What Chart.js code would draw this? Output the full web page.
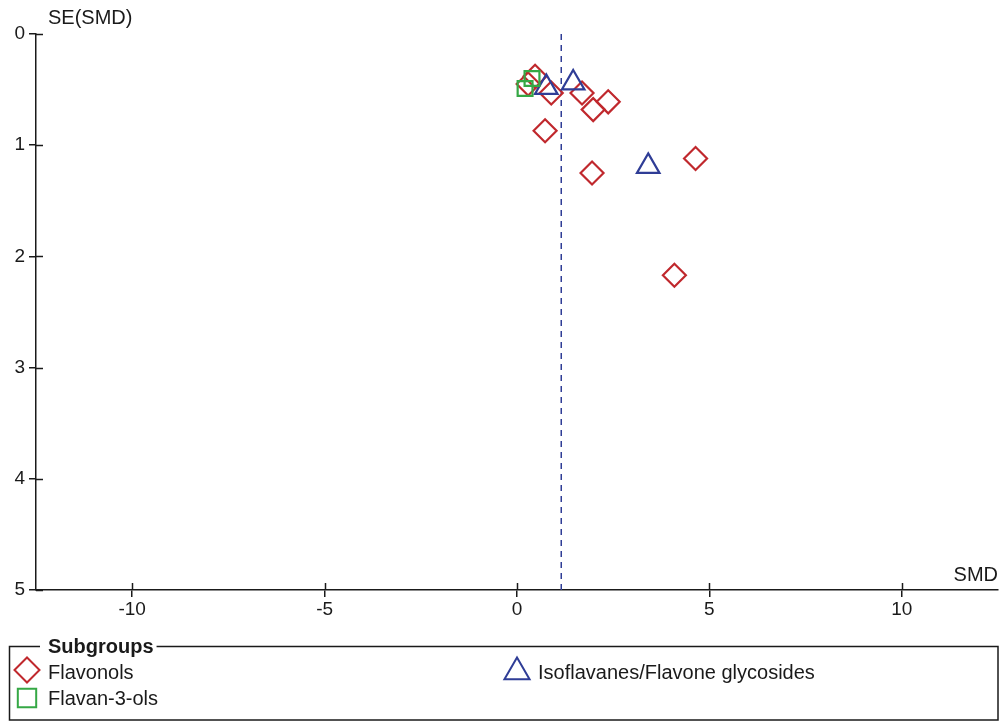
<!DOCTYPE html>
<html><head><meta charset="utf-8">
<script src="https://cdn.jsdelivr.net/npm/chart.js@4.4.0/dist/chart.umd.min.js"></script>
<style>html,body{margin:0;padding:0;background:#fff;} #wrap{width:1001px;height:722px;position:relative}</style>
</head><body><div id="wrap"><canvas id="c" width="1001" height="722"></canvas></div>
<script>
// ---- data ----
const flavonolsSMD = [0.47, 0.29, 0.89, 1.69, 1.98, 2.37, 0.73, 1.95, 4.64, 4.09];
const flavonolsSE  = [0.38, 0.45, 0.53, 0.53, 0.68, 0.61, 0.87, 1.25, 1.12, 2.17];
const isoSMD = [0.76, 1.46, 3.41];
const isoSE  = [0.48, 0.44, 1.19];
const flavanSMD = [0.39, 0.21];
const flavanSE  = [0.40, 0.49];
const pooledSMD = 1.15;
const xTicks = [-10, -5, 0, 5, 10];
const yTicks = [0, 1, 2, 3, 4, 5];
const xLabel = 'SMD';
const yLabel = 'SE(SMD)';
const legendTitle = 'Subgroups';
const seriesNames = ['Flavonols', 'Isoflavanes/Flavone glycosides', 'Flavan-3-ols'];

const RED = '#c0282d', BLUE = '#2f3d96', GREEN = '#35a845', INK = '#1a1a1a';
const FONT = 'Liberation Sans, Arial, sans-serif';

const pts = (xs, ys) => xs.map((x, i) => ({x, y: ys[i]}));

const styles = {
  'Flavonols': {pointStyle: 'rectRot', radius: 11.5, color: RED, legR: 12.5},
  'Isoflavanes/Flavone glycosides': {pointStyle: 'triangle', radius: 13, color: BLUE, legR: 14.5},
  'Flavan-3-ols': {pointStyle: 'rect', radius: 10.5, color: GREEN, legR: 13}
};

function scatterSet(name, data, order) {
  const s = styles[name];
  return {
    type: 'scatter', label: name, data, order,
    pointStyle: s.pointStyle, pointRadius: s.radius, pointBorderColor: s.color,
    borderColor: s.color, pointBackgroundColor: 'rgba(0,0,0,0)', backgroundColor: 'rgba(0,0,0,0)',
    pointBorderWidth: 2.2
  };
}

const innerTicks = {
  id: 'innerTicks',
  afterDraw(chart) {
    const ctx = chart.ctx, xs = chart.scales.x, ys = chart.scales.y, a = chart.chartArea;
    ctx.save();
    ctx.strokeStyle = INK; ctx.lineWidth = 1.5;
    xTicks.forEach(v => { const px = Math.round(xs.getPixelForValue(v)) + 0.5;
      ctx.beginPath(); ctx.moveTo(px, a.bottom); ctx.lineTo(px, a.bottom - 7); ctx.stroke(); });
    yTicks.forEach(v => { const py = Math.round(ys.getPixelForValue(v)) + 0.5;
      ctx.beginPath(); ctx.moveTo(a.left, py); ctx.lineTo(a.left + 7, py); ctx.stroke(); });
    // axis titles
    ctx.fillStyle = INK; ctx.font = '20px ' + FONT; ctx.textBaseline = 'middle';
    ctx.textAlign = 'left'; ctx.fillText(yLabel, a.left + 12, 18);
    ctx.textAlign = 'right'; ctx.fillText(xLabel, a.right, a.bottom - 15);
    // legend box
    const L = 9, T = 646, R = 998, B = 720;
    ctx.font = 'bold 20px ' + FONT; ctx.textAlign = 'left';
    const tw = ctx.measureText(legendTitle).width;
    ctx.lineWidth = 1.5;
    ctx.beginPath();
    ctx.moveTo(40, T + 0.5); ctx.lineTo(L + 0.5, T + 0.5); ctx.lineTo(L + 0.5, B); ctx.lineTo(R, B);
    ctx.lineTo(R, T + 0.5); ctx.lineTo(48 + tw + 3, T + 0.5);
    ctx.stroke();
    ctx.fillText(legendTitle, 48, T + 1);
    ctx.font = '20px ' + FONT;
    const entries = [
      {name: seriesNames[0], mx: 27, my: 670, tx: 48, ty: 673},
      {name: seriesNames[1], mx: 517, my: 672, tx: 538, ty: 673},
      {name: seriesNames[2], mx: 27, my: 698, tx: 48, ty: 699}
    ];
    entries.forEach(e => {
      const s = styles[e.name];
      ctx.strokeStyle = s.color; ctx.lineWidth = 2; ctx.fillStyle = 'rgba(0,0,0,0)';
      Chart.helpers.drawPoint(ctx, {pointStyle: s.pointStyle, radius: s.legR, borderWidth: 2, rotation: 0}, e.mx, e.my);
      ctx.fillStyle = INK;
      ctx.fillText(e.name, e.tx, e.ty);
    });
    ctx.restore();
  }
};

new Chart(document.getElementById('c'), {
  data: {
    datasets: [
      scatterSet(seriesNames[2], pts(flavanSMD, flavanSE), 0),
      scatterSet(seriesNames[1], pts(isoSMD, isoSE), 1),
      scatterSet(seriesNames[0], pts(flavonolsSMD, flavonolsSE), 2),
      {type: 'line', label: 'pooled', data: [{x: pooledSMD, y: 0}, {x: pooledSMD, y: 5}], order: 3,
       borderColor: BLUE, borderWidth: 1.5, borderDash: [6, 5], pointRadius: 0, fill: false}
    ]
  },
  options: {
    responsive: false, animation: false, devicePixelRatio: 1, events: [],
    layout: {autoPadding: false, padding: {top: 34, right: 3, bottom: 92, left: 0}},
    plugins: {legend: {display: false}, tooltip: {enabled: false}, title: {display: false}},
    scales: {
      x: {
        type: 'linear', min: -12.5, max: 12.5,
        afterBuildTicks: s => { s.ticks = xTicks.map(v => ({value: v})); },
        afterFit: s => { s.height = 40; s.paddingLeft = 0; s.paddingRight = 0; },
        grid: {drawOnChartArea: false, drawTicks: true, tickLength: 7, color: INK, lineWidth: 1.5},
        border: {display: true, color: INK, width: 1.5},
        ticks: {color: INK, font: {family: FONT, size: 19}, padding: 1, maxRotation: 0, autoSkip: false}
      },
      y: {
        type: 'linear', reverse: true, min: 0, max: 5,
        afterBuildTicks: s => { s.ticks = yTicks.map(v => ({value: v})); },
        afterFit: s => { s.width = 36; s.paddingTop = 0; s.paddingBottom = 0; },
        grid: {drawOnChartArea: false, drawTicks: true, tickLength: 7, color: INK, lineWidth: 1.5},
        border: {display: true, color: INK, width: 1.5},
        ticks: {color: INK, font: {family: FONT, size: 19}, padding: 4, autoSkip: false}
      }
    }
  },
  plugins: [innerTicks]
});
</script></body></html>
